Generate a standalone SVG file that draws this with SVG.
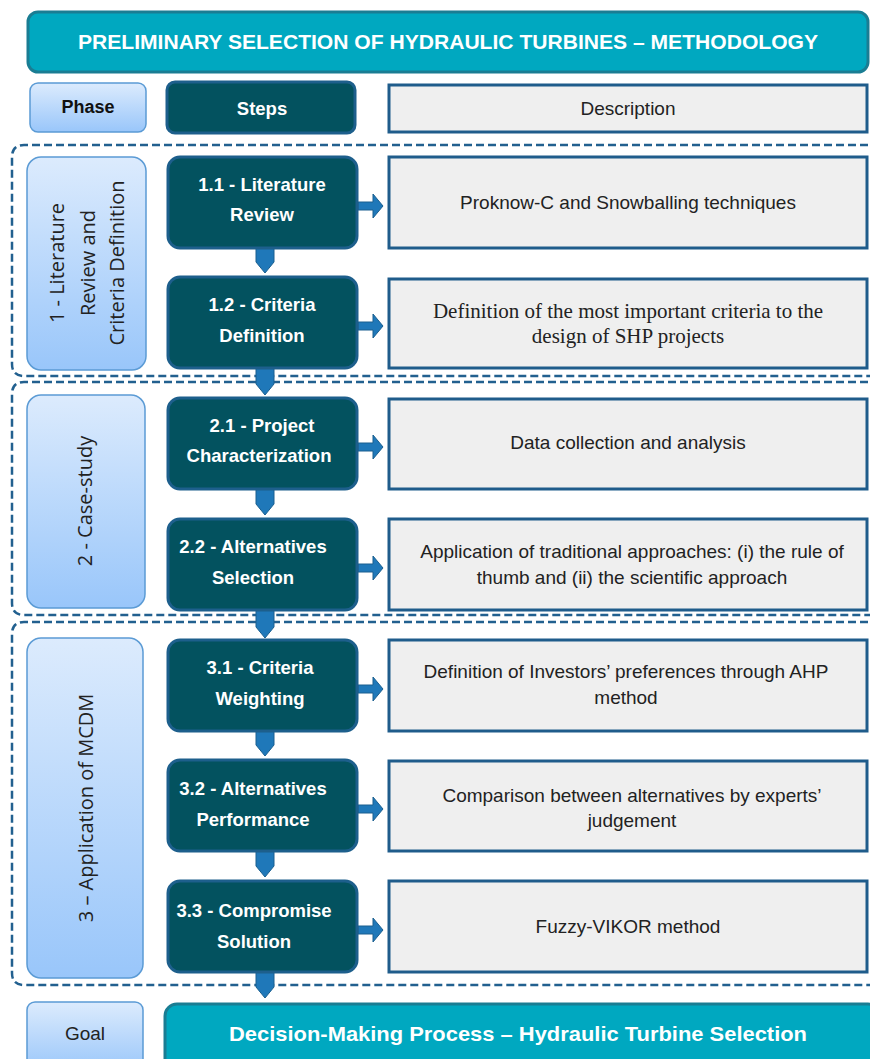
<svg xmlns="http://www.w3.org/2000/svg" width="870" height="1059" viewBox="0 0 870 1059">
<defs>
<linearGradient id="phaseGrad" x1="0" y1="0" x2="0" y2="1">
<stop offset="0" stop-color="#dcebfd"/>
<stop offset="1" stop-color="#99c6fa"/>
</linearGradient>
<style>
.teal{fill:#00a8c0;stroke:#1a7d93;stroke-width:3}
.phase{fill:url(#phaseGrad);stroke:#5b9bd5;stroke-width:1.5}
.step{fill:#03525f;stroke:#1d5f8c;stroke-width:3}
.desc{fill:#efefef;stroke:#1f5c8b;stroke-width:3}
.grp{fill:none;stroke:#22608f;stroke-width:2.5;stroke-dasharray:8 4}
.arr{fill:#1f78b9;stroke:#1a5f8f;stroke-width:1}
.tw{font-family:"Liberation Sans",Arial,sans-serif;font-weight:bold;fill:#fff;text-anchor:middle}
.st{font-family:"Liberation Sans",Arial,sans-serif;font-weight:bold;font-size:18.5px;fill:#fff;text-anchor:middle}
.ds{font-family:"Liberation Sans",Arial,sans-serif;font-size:19px;fill:#222;text-anchor:middle}
.dserif{font-family:"Liberation Serif","Times New Roman",serif;font-size:21px;fill:#222;text-anchor:middle}
.ph{font-family:"Open Sans","DejaVu Sans",sans-serif;font-size:20px;fill:#222;text-anchor:middle}
</style>
</defs>
<rect width="870" height="1059" fill="#fff"/>

<g id="title">
<rect class="teal" x="28" y="12" width="840" height="60" rx="10"/>
<text class="tw" x="448" y="49" font-size="21" textLength="740" lengthAdjust="spacingAndGlyphs">PRELIMINARY SELECTION OF HYDRAULIC TURBINES – METHODOLOGY</text>
</g>

<g id="header">
<g id="hdr-phase"><rect class="phase" x="30" y="83" width="116" height="49" rx="8"/>
<text x="88" y="113" font-family="Liberation Sans,Arial,sans-serif" font-weight="bold" font-size="18" text-anchor="middle" fill="#111">Phase</text></g>
<g id="hdr-steps"><rect class="step" x="167" y="82" width="188" height="51" rx="8"/>
<text class="st" x="262" y="115">Steps</text></g>
<g id="hdr-desc"><rect class="desc" x="389" y="85" width="478" height="47"/>
<text class="ds" x="628" y="115">Description</text></g>
</g>

<g id="groups">
<path class="grp" d="M880,145 H24 Q12,145 12,157 V364 Q12,376 24,376 H880"/>
<path class="grp" d="M880,382 H24 Q12,382 12,394 V603 Q12,615 24,615 H880"/>
<path class="grp" d="M880,622 H24 Q12,622 12,634 V973 Q12,985 24,985 H880"/>
</g>

<g id="connectors">
<path class="arr" d="M256,248 h18 v14 l-9,11 l-9,-11 z"/>
<path class="arr" d="M256,368 h18 v16 l-9,11 l-9,-11 z"/>
<path class="arr" d="M256,489 h18 v15 l-9,11 l-9,-11 z"/>
<path class="arr" d="M256,610 h18 v17 l-9,11 l-9,-11 z"/>
<path class="arr" d="M256,731 h18 v14 l-9,11 l-9,-11 z"/>
<path class="arr" d="M256,851 h18 v15 l-9,11 l-9,-11 z"/>
<path class="arr" d="M256,972 h18 v15 l-9,11 l-9,-11 z"/>
<path class="arr" d="M358,202 h15 v-8 l10,12 l-10,12 v-8 h-15 z"/>
<path class="arr" d="M358,322 h15 v-8 l10,12 l-10,12 v-8 h-15 z"/>
<path class="arr" d="M358,443 h15 v-8 l10,12 l-10,12 v-8 h-15 z"/>
<path class="arr" d="M358,564 h15 v-8 l10,12 l-10,12 v-8 h-15 z"/>
<path class="arr" d="M358,685 h15 v-8 l10,12 l-10,12 v-8 h-15 z"/>
<path class="arr" d="M358,805 h15 v-8 l10,12 l-10,12 v-8 h-15 z"/>
<path class="arr" d="M358,926 h15 v-8 l10,12 l-10,12 v-8 h-15 z"/>
</g>

<g id="phase1"><rect class="phase" x="27" y="157" width="119" height="213" rx="14"/>
<g transform="translate(0,263) rotate(-90)">
<text class="ph" x="0" y="64">1 - Literature</text>
<text class="ph" x="0" y="95">Review and</text>
<text class="ph" x="0" y="124">Criteria Definition</text>
</g></g>
<g id="phase2"><rect class="phase" x="27" y="395" width="118" height="213" rx="14"/>
<text class="ph" transform="translate(92,501) rotate(-90)" x="0" y="0">2 - Case-study</text></g>
<g id="phase3"><rect class="phase" x="27" y="638" width="116" height="340" rx="14"/>
<text class="ph" transform="translate(93,808) rotate(-90)" x="0" y="0">3 – Application of MCDM</text></g>
<g id="goal"><rect class="phase" x="27" y="1002" width="116" height="70" rx="8"/>
<text x="85" y="1040" font-family="Liberation Sans,Arial,sans-serif" font-size="19" text-anchor="middle" fill="#222">Goal</text></g>

<g id="s11"><rect class="step" x="168" y="157" width="189" height="91" rx="12"/>
<text class="st" x="262" y="191">1.1 - Literature</text><text class="st" x="262" y="221">Review</text></g>
<g id="s12"><rect class="step" x="168" y="277" width="189" height="91" rx="12"/>
<text class="st" x="262" y="311">1.2 - Criteria</text><text class="st" x="262" y="342">Definition</text></g>
<g id="s21"><rect class="step" x="168" y="398" width="189" height="91" rx="12"/>
<text class="st" x="262" y="432">2.1 - Project</text><text class="st" x="259" y="462">Characterization</text></g>
<g id="s22"><rect class="step" x="168" y="519" width="189" height="91" rx="12"/>
<text class="st" x="253" y="553">2.2 - Alternatives</text><text class="st" x="253" y="584">Selection</text></g>
<g id="s31"><rect class="step" x="168" y="640" width="189" height="91" rx="12"/>
<text class="st" x="260" y="674">3.1 - Criteria</text><text class="st" x="260" y="705">Weighting</text></g>
<g id="s32"><rect class="step" x="168" y="760" width="189" height="91" rx="12"/>
<text class="st" x="253" y="795">3.2 - Alternatives</text><text class="st" x="253" y="826">Performance</text></g>
<g id="s33"><rect class="step" x="168" y="881" width="189" height="91" rx="12"/>
<text class="st" x="254" y="917">3.3 - Compromise</text><text class="st" x="254" y="948">Solution</text></g>

<g id="d11"><rect class="desc" x="389" y="157" width="478" height="91"/>
<text class="ds" x="628" y="209">Proknow-C and Snowballing techniques</text></g>
<g id="d12"><rect class="desc" x="389" y="279" width="478" height="89"/>
<text class="dserif" x="628" y="318">Definition of the most important criteria to the</text>
<text class="dserif" x="628" y="343">design of SHP projects</text></g>
<g id="d21"><rect class="desc" x="389" y="399" width="478" height="90"/>
<text class="ds" x="628" y="449">Data collection and analysis</text></g>
<g id="d22"><rect class="desc" x="389" y="519" width="478" height="91"/>
<text class="ds" x="632" y="558">Application of traditional approaches: (i) the rule of</text>
<text class="ds" x="632" y="584">thumb and (ii) the scientific approach</text></g>
<g id="d31"><rect class="desc" x="389" y="640" width="478" height="91"/>
<text class="ds" x="626" y="678">Definition of Investors’ preferences through AHP</text>
<text class="ds" x="626" y="704">method</text></g>
<g id="d32"><rect class="desc" x="389" y="761" width="478" height="90"/>
<text class="ds" x="632" y="802">Comparison between alternatives by experts’</text>
<text class="ds" x="632" y="827">judgement</text></g>
<g id="d33"><rect class="desc" x="389" y="881" width="478" height="91"/>
<text class="ds" x="628" y="933">Fuzzy-VIKOR method</text></g>

<g id="goal-main"><rect class="teal" x="165" y="1004" width="715" height="70" rx="12"/>
<text class="tw" x="518" y="1041" font-size="21" textLength="578" lengthAdjust="spacingAndGlyphs">Decision-Making Process – Hydraulic Turbine Selection</text></g>
</svg>
